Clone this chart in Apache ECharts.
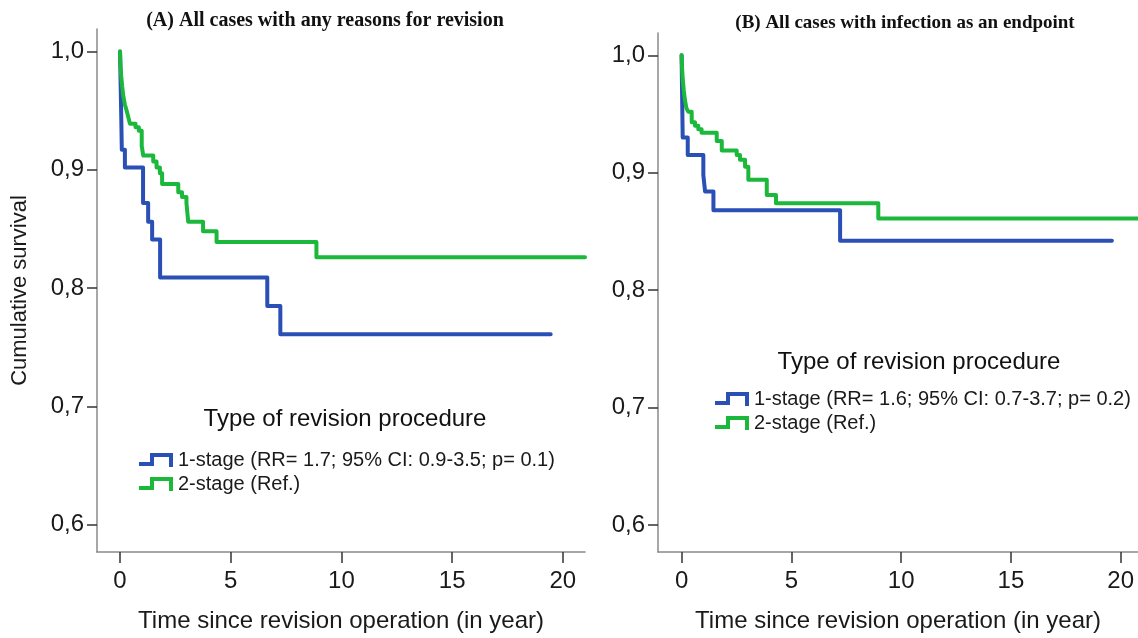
<!DOCTYPE html>
<html>
<head>
<meta charset="utf-8">
<script src="https://cdn.jsdelivr.net/npm/echarts@6/dist/echarts.min.js"></script>
<style>html,body{margin:0;padding:0;background:#fff}#c{width:1138px;height:638px}</style>
</head>
<body>
<div id="c"></div>
<script>
// ---- data ----
const xTicks = [0, 5, 10, 15, 20];
const yTicks = [0.6, 0.7, 0.8, 0.9, 1.0];

// Panel A: all cases with any reasons for revision
const tA1 = [0, 0.03, 0.06, 0.08, 0.22, 1.04, 1.27, 1.45, 1.81, 6.65, 7.24, 19.45];
const sA1 = [1.0, 0.97, 0.94, 0.917, 0.902, 0.872, 0.856, 0.841, 0.809, 0.785, 0.761, 0.761];
const tA2 = [0, 0.02, 0.05, 0.1, 0.15, 0.22, 0.3, 0.38, 0.45, 0.7, 0.85, 0.98, 1.05, 1.5, 1.65, 1.8, 1.9, 2.63, 2.8, 3.0, 3.08, 3.75, 4.36, 8.87, 21];
const sA2 = [1.0, 0.99, 0.98, 0.97, 0.962, 0.955, 0.95, 0.944, 0.939, 0.936, 0.933, 0.92, 0.912, 0.907, 0.902, 0.897, 0.888, 0.881, 0.877, 0.872, 0.856, 0.848, 0.839, 0.826, 0.826];

// Panel B: all cases with infection as an endpoint
const tB1 = [0, 0.02, 0.05, 0.28, 0.99, 1.07, 1.45, 7.22, 19.6];
const sB1 = [1.0, 0.97, 0.93, 0.915, 0.898, 0.884, 0.868, 0.842, 0.842];
const tB2 = [0, 0.02, 0.05, 0.1, 0.15, 0.22, 0.3, 0.46, 0.61, 0.76, 0.91, 1.6, 1.83, 2.51, 2.66, 2.89, 3.04, 3.88, 4.3, 8.96, 20.8];
const sB2 = [1.0, 0.99, 0.98, 0.97, 0.962, 0.955, 0.952, 0.943, 0.940, 0.937, 0.934, 0.927, 0.919, 0.915, 0.911, 0.905, 0.894, 0.881, 0.874, 0.861, 0.861];

const nameA1 = '1-stage (RR= 1.7; 95% CI: 0.9-3.5; p= 0.1)';
const nameB1 = '1-stage (RR= 1.6; 95% CI: 0.7-3.7; p= 0.2)';
const name2 = '2-stage (Ref.)';
const titleA = '(A) All cases with any reasons for revision';
const titleB = '(B) All cases with infection as an endpoint';
const legendTitle = 'Type of revision procedure';
const xName = 'Time since revision operation (in year)';
const yName = 'Cumulative survival';

// ---- chart ----
const BLUE = '#2a50b6', GREEN = '#1bb83b';
const FONT = '"Liberation Sans", Arial, sans-serif';
const zip = (t, s) => t.map((v, i) => [v, s[i]]);
const stepIcon = 'path://M0,9 L11,9 L11,0 L34,0 L34,14 L30,14 L30,4 L15,4 L15,13 L0,13 Z';

function xAxis(gi, min, max) {
  return {
    type: 'value', gridIndex: gi, min: min, max: max,
    name: xName, nameLocation: 'middle', nameGap: 57,
    nameTextStyle: {fontFamily: FONT, fontSize: 24, color: '#1a1a1a'},
    axisLine: {onZero: false, lineStyle: {color: '#8a8a8a', width: 1.5}},
    axisTick: {show: true, customValues: xTicks, length: 11, lineStyle: {color: '#333', width: 1.5}},
    axisLabel: {customValues: xTicks, margin: 17, fontFamily: FONT, fontSize: 24, color: '#1a1a1a'},
    splitLine: {show: false}
  };
}
function yAxis(gi, withName) {
  return {
    type: 'value', gridIndex: gi, min: 0.577, max: 1.019,
    name: withName ? yName : '', nameLocation: 'middle', nameGap: 66,
    nameTextStyle: {fontFamily: FONT, fontSize: 22, color: '#1a1a1a'},
    axisLine: {show: true, onZero: false, lineStyle: {color: '#8a8a8a', width: 1.5}},
    axisTick: {show: true, customValues: yTicks, length: 10, lineStyle: {color: '#333', width: 1.5}},
    axisLabel: {customValues: yTicks, margin: 13, fontFamily: FONT, fontSize: 24, color: '#1a1a1a',
      formatter: v => v.toFixed(1).replace('.', ',')},
    splitLine: {show: false}
  };
}
function line(name, t, s, color, xi) {
  return {
    name: name, type: 'line', xAxisIndex: xi, yAxisIndex: xi, step: 'end',
    data: zip(t, s), showSymbol: false, symbol: 'none', color: color,
    lineStyle: {color: color, width: 4, cap: 'round', join: 'round'},
    emphasis: {disabled: true}, animation: false
  };
}
function legend(names, left, top, gap) {
  return {
    orient: 'vertical', left: left, top: top, data: names, icon: stepIcon,
    itemWidth: 34, itemHeight: 14, itemGap: gap, padding: 0, selectedMode: false,
    textStyle: {fontFamily: FONT, fontSize: 20, color: '#1a1a1a'}
  };
}
function text(str, x, y, font, weight, size) {
  return {type: 'text', x: x, y: y, silent: true,
    style: {text: str, fontFamily: font, fontWeight: weight, fontSize: size, fill: '#111',
      textAlign: 'center', textVerticalAlign: 'middle'}};
}

const chart = echarts.init(document.getElementById('c'), null, {renderer: 'canvas'});
chart.setOption({
  backgroundColor: '#fff',
  animation: false,
  grid: [
    {left: 97, top: 29, right: 553, bottom: 85},
    {left: 658, top: 33, right: 0, bottom: 83}
  ],
  xAxis: [xAxis(0, -1.04, 21), xAxis(1, -1.075, 20.79)],
  yAxis: [yAxis(0, true), yAxis(1, false)],
  legend: [
    legend([nameA1, name2], 139, 450, 4),
    legend([nameB1, name2], 715, 389, 4)
  ],
  series: [
    line(nameA1, tA1, sA1, BLUE, 0),
    line(name2, tA2, sA2, GREEN, 0),
    line(nameB1, tB1, sB1, BLUE, 1),
    line(name2, tB2, sB2, GREEN, 1)
  ],
  graphic: [
    text(titleA, 325, 21, '"Liberation Serif", "Times New Roman", serif', 'bold', 20),
    text(titleB, 905, 23, '"Liberation Serif", "Times New Roman", serif', 'bold', 19),
    text(legendTitle, 345, 419, FONT, 'normal', 24),
    text(legendTitle, 919, 362, FONT, 'normal', 24)
  ]
});
</script>
</body>
</html>
